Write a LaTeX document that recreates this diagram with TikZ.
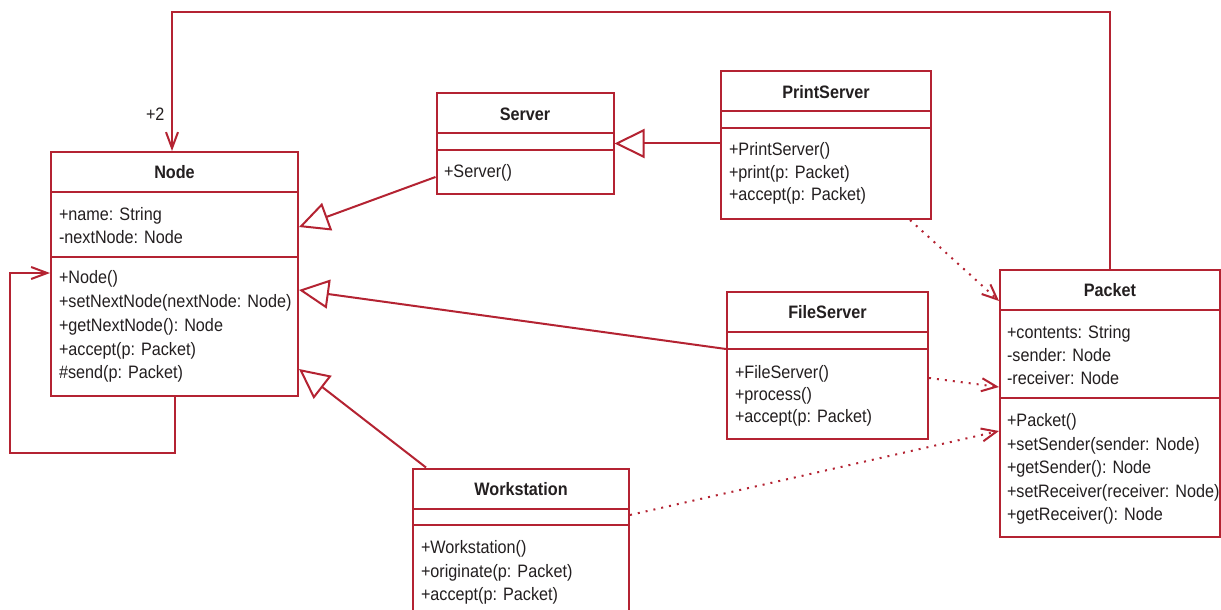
\documentclass[tikz,border=0pt]{standalone}
\usepackage{fontspec}
\setmainfont{Liberation Sans}[FakeStretch=0.9]
\usetikzlibrary{arrows.meta,fit}
\definecolor{umlred}{RGB}{180,35,50}
\definecolor{umltext}{RGB}{35,31,32}

\begin{document}
\begin{tikzpicture}[x=0.5pt,y=-0.5pt,line width=1pt,
  cls/.style={draw=umlred,inner sep=0pt},
  sep/.style={draw=umlred},
  title/.style={anchor=base,inner sep=0pt,text=umltext,font=\fontsize{9}{11}\selectfont\bfseries},
  member/.style={anchor=base west,inner sep=0pt,text=umltext,font=\fontsize{9}{11}\selectfont},
  inherit/.style={draw=umlred,-{Triangle[open,length=15pt,width=14.5pt]}},
  assoc/.style={draw=umlred,-{Straight Barb[length=8pt,width=6pt]}},
  uses/.style={draw=umlred,dash pattern=on 1pt off 3pt,-{Straight Barb[length=7.5pt,width=6.5pt]}}]
\useasboundingbox (0,0) rectangle (1221,610);
\fill[white] (0,0) rectangle (1221,610);
\clip (0,0) rectangle (1221,610);

% class boxes
\node[cls,fit={(51,152) (298,396)}] (node) {};
\node[cls,fit={(436.5,93.5) (613.5,193.5)}] (server) {};
\node[cls,fit={(721,71) (931,219)}] (printsrv) {};
\node[cls,fit={(727,291.5) (928,439)}] (filesrv) {};
\node[cls,fit={(1000,270) (1220,537)}] (packet) {};
\node[cls,fit={(413,468.5) (629,650)}] (workst) {};

% compartments
\draw[sep] (51,192) -- (298,192);
\draw[sep] (51,256.5) -- (298,256.5);
\draw[sep] (436.5,133.5) -- (613.5,133.5);
\draw[sep] (436.5,150) -- (613.5,150);
\draw[sep] (721,111.5) -- (931,111.5);
\draw[sep] (721,128.5) -- (931,128.5);
\draw[sep] (727,331.5) -- (928,331.5);
\draw[sep] (727,348.5) -- (928,348.5);
\draw[sep] (1000,310) -- (1220,310);
\draw[sep] (1000,398) -- (1220,398);
\draw[sep] (413,508.5) -- (629,508.5);
\draw[sep] (413,525) -- (629,525);

% Node
\node[title] (node-t) at (174.5,178.5) {Node};
\node[member] (node-a1) at (58,220.5) {+name: String};
\node[member] (node-a2) at (58,243.5) {-nextNode: Node};
\node[member] (node-m1) at (58,283.5) {+Node()};
\node[member] (node-m2) at (58,307) {+setNextNode(nextNode: Node)};
\node[member] (node-m3) at (58,331) {+getNextNode(): Node};
\node[member] (node-m4) at (58,355) {+accept(p: Packet)};
\node[member] (node-m5) at (58,378.5) {\#send(p: Packet)};

% Server
\node[title] (server-t) at (525,120.5) {Server};
\node[member] (server-m1) at (443,177.5) {+Server()};

% PrintServer
\node[title] (printsrv-t) at (826,98.5) {PrintServer};
\node[member] (printsrv-m1) at (728,155.5) {+PrintServer()};
\node[member] (printsrv-m2) at (728,178) {+print(p: Packet)};
\node[member] (printsrv-m3) at (728,200.5) {+accept(p: Packet)};

% FileServer
\node[title] (filesrv-t) at (827.5,318.5) {FileServer};
\node[member] (filesrv-m1) at (734,378) {+FileServer()};
\node[member] (filesrv-m2) at (734,400.5) {+process()};
\node[member] (filesrv-m3) at (734,422) {+accept(p: Packet)};

% Packet
\node[title] (packet-t) at (1110,296) {Packet};
\node[member] (packet-a1) at (1006,338.5) {+contents: String};
\node[member] (packet-a2) at (1006,361) {-sender: Node};
\node[member] (packet-a3) at (1006,384) {-receiver: Node};
\node[member] (packet-m1) at (1006,426.5) {+Packet()};
\node[member] (packet-m2) at (1006,450) {+setSender(sender: Node)};
\node[member] (packet-m3) at (1006,473.5) {+getSender(): Node};
\node[member] (packet-m4) at (1006,497) {+setReceiver(receiver: Node)};
\node[member] (packet-m5) at (1006,520.5) {+getReceiver(): Node};

% Workstation
\node[title] (workst-t) at (521,495) {Workstation};
\node[member] (workst-m1) at (420,553.5) {+Workstation()};
\node[member] (workst-m2) at (420,577) {+originate(p: Packet)};
\node[member] (workst-m3) at (420,600) {+accept(p: Packet)};

% generalisations
\draw[inherit] (server.west |- 0,177) -- (node.east |- 0,227);
\draw[inherit] (printsrv.west |- server.east) -- (server.east);
\draw[inherit] (filesrv.west |- 0,349) -- (node.east |- 0,290);
\draw[inherit] (workst.north -| 426,0) -- (node.east |- 0,369);

% associations
\coordinate (top) at (172,12);
\coordinate (loop) at (10,453);
\draw[assoc] (packet.north) |- (top) -- (node.north -| top);
\node[member] (mult) at (145,121) {+2};
\draw[assoc] (node.south) |- (loop) |- (node.west |- 0,273);

% dependencies
\draw[uses] (printsrv.south -| 910,0) -- (packet.west |- 0,301);
\draw[uses] (filesrv.east |- 0,378) -- (packet.west |- 0,387);
\draw[uses] (workst.east |- 0,515) -- (packet.west |- 0,431);
\end{tikzpicture}
\end{document}
